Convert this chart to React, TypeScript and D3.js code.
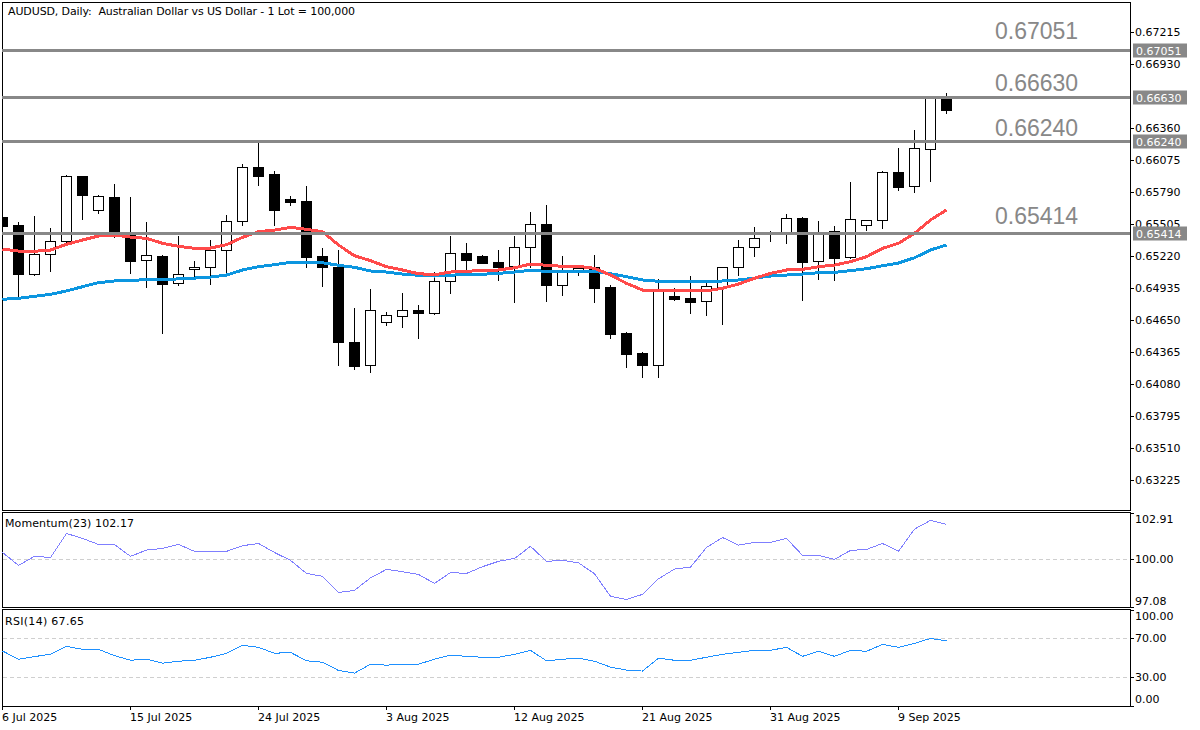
import React, { useEffect, useRef } from 'react'
import * as d3 from 'd3'

const opens = [65565,65494,65057,65235,65351,65931,65628,65744,65405,65182,65218,64977,65102,65120,65271,65530,66011,65949,65726,65708,65218,65120,64451,64246,64629,64683,64736,64709,64995,65244,65218,65164,65128,65298,65503,64959,65093,65120,64941,64531,64353,64246,64861,64843,64816,64941,65120,65298,65414,65414,65556,65173,65440,65209,65494,65539,65967,65842,66172,66617]
const highs = [65583,65530,65583,65476,65949,65940,65770,65869,65753,65530,65235,65405,65182,65369,65592,66047,66234,65984,65762,65851,65298,65280,64763,64932,64727,64897,64790,65084,65405,65342,65235,65280,65405,65619,65681,65226,65128,65235,64968,64549,64370,65021,64941,65048,65004,65128,65369,65485,65449,65601,65574,65539,65494,65886,65539,65984,66189,66350,66653,66680]
const lows = [65396,64852,65048,65084,65342,65548,65601,65387,65066,64941,64531,64959,65021,64968,65048,65494,65851,65494,65672,65120,64950,64246,64210,64183,64602,64584,64486,64700,64888,65102,65155,65004,64807,65120,64816,64870,65048,64807,64486,64228,64139,64139,64825,64709,64691,64611,65048,65218,65351,65334,64825,65012,65004,65200,65449,65467,65806,65788,65886,66493]
const closes = [65485,65057,65235,65351,65931,65762,65753,65414,65173,65226,64968,65057,65120,65271,65530,66011,65931,65628,65699,65209,65120,64451,64237,64736,64691,64736,64709,64995,65244,65182,65155,65120,65298,65503,64959,65093,65111,64932,64522,64344,64246,64914,64834,64807,64950,65120,65298,65378,65432,65556,65164,65432,65200,65548,65539,65967,65833,66181,66644,66519]

const maFast = [65280,65262,65260,65271,65322,65360,65396,65405,65387,65375,65331,65304,65286,65289,65318,65384,65434,65449,65473,65456,65434,65316,65220,65176,65122,65093,65060,65051,65075,65081,65090,65093,65113,65146,65135,65126,65126,65108,65048,64974,64914,64912,64914,64906,64906,64930,64968,65019,65063,65093,65099,65122,65137,65167,65211,65286,65331,65420,65539,65628]
const maSlow = [64832,64840,64858,64876,64906,64944,64980,64995,65001,65006,65010,65013,65021,65030,65048,65093,65122,65140,65161,65161,65158,65135,65117,65084,65075,65057,65046,65039,65046,65055,65055,65063,65075,65090,65081,65081,65081,65081,65060,65033,65004,64992,64992,64986,64986,64995,65004,65021,65039,65048,65057,65069,65072,65087,65104,65131,65155,65202,65271,65316]

const momentum = [100.43,99.63,100.19,100.12,101.61,101.30,100.93,100.93,100.19,100.58,100.68,100.93,100.50,100.50,100.50,100.85,100.99,100.43,99.94,99.13,98.95,97.95,98.08,98.86,99.38,99.24,99.07,98.51,99.19,99.13,99.55,99.88,100.06,100.81,99.88,99.94,99.79,99.11,97.71,97.52,97.83,98.80,99.40,99.52,100.74,101.36,100.89,101.05,101.05,101.30,100.25,100.25,100.00,100.56,100.62,100.99,100.50,101.88,102.42,102.17]
const rsi = [57.0,48.5,51.2,53.6,61.8,58.7,58.7,52.2,47.4,48.5,44.4,46.4,47.4,50.5,54.6,62.8,60.8,54.6,55.6,46.8,45.4,36.8,34.1,43.3,42.3,43.3,43.3,48.5,52.6,51.5,50.5,50.5,53.6,57.7,46.8,48.5,49.5,46.4,40.3,37.2,36.2,49.5,47.4,47.4,50.5,53.6,55.6,57.7,57.7,60.8,51.5,56.7,51.5,57.7,56.7,63.8,60.8,64.9,70.0,67.65]

const levels = [0.67051, 0.6663, 0.6624, 0.65414]
const levelLabelGaps = [11, 7, 5, 10]
const priceTicks = [0.67215,0.6693,0.6636,0.66075,0.6579,0.65505,0.6522,0.64935,0.6465,0.64365,0.6408,0.63795,0.6351,0.63225]
const momentumTicks = [102.91, 100, 97.08]
const rsiTicks = [100, 70, 30, 0]
const dateTicks = [0, 8, 16, 24, 32, 40, 48, 56]
const dateLabels = ['6 Jul 2025','15 Jul 2025','24 Jul 2025','3 Aug 2025','12 Aug 2025','21 Aug 2025','31 Aug 2025','9 Sep 2025']

const FONT = '"DejaVu Sans", sans-serif'
const left = 2
const right = 1130

function App() {
  const svgRef = useRef(null)

  useEffect(() => {
    const svg = d3.select(svgRef.current)
    svg.selectAll('*').remove()

    const x = d3.scaleLinear().domain([0, 59]).range([2, 946])
    const yPrice = d3.scaleLinear().domain([0.63225, 0.67215]).range([479.5, 32])
    const yMom = d3.scaleLinear().domain([97.08, 102.91]).range([606.5, 512.5])
    const yRsi = d3.scaleLinear().domain([0, 100]).range([706, 609.5])
    const px = (v) => Math.round(v) + 0.5
    const levelY = (v) => Math.floor(yPrice(v)) + 0.5

    svg.append('defs').append('clipPath').attr('id', 'main')
      .append('rect').attr('x', left).attr('y', 2).attr('width', right - left).attr('height', 508)

    // panels
    const panels = [[2, 510], [512, 607], [609, 706]]
    svg.selectAll('rect.panel').data(panels).join('rect')
      .attr('class', 'panel')
      .attr('x', left + 0.5).attr('y', (d) => d[0] + 0.5)
      .attr('width', right - left).attr('height', (d) => d[1] - d[0])
      .attr('fill', 'white').attr('stroke', 'black')

    const main = svg.append('g').attr('clip-path', 'url(#main)').attr('shape-rendering', 'crispEdges')

    // candles
    const candles = main.selectAll('g.candle').data(d3.range(opens.length)).join('g').attr('class', 'candle')
    candles.append('line')
      .attr('x1', (i) => x(i) + 0.5).attr('x2', (i) => x(i) + 0.5)
      .attr('y1', (i) => px(yPrice(highs[i] / 100000)))
      .attr('y2', (i) => px(yPrice(lows[i] / 100000)))
      .attr('stroke', 'black')
    candles.append('rect')
      .attr('x', (i) => x(i) - 4.5).attr('width', 10)
      .attr('y', (i) => px(yPrice(Math.max(opens[i], closes[i]) / 100000)))
      .attr('height', (i) => Math.max(1, Math.round(yPrice(Math.min(opens[i], closes[i]) / 100000)) - Math.round(yPrice(Math.max(opens[i], closes[i]) / 100000))))
      .attr('fill', (i) => (closes[i] < opens[i] ? 'black' : 'white'))
      .attr('stroke', 'black')

    // moving averages
    const priceLine = d3.line().x((d, i) => x(i) + 0.5).y((d) => yPrice(d / 100000))
    main.append('path').attr('d', priceLine(maSlow)).attr('fill', 'none').attr('stroke', '#0c96e0').attr('stroke-width', 3)
    main.append('path').attr('d', priceLine(maFast)).attr('fill', 'none').attr('stroke', '#ff4a4a').attr('stroke-width', 3)

    // levels
    main.selectAll('line.level').data(levels).join('line')
      .attr('class', 'level')
      .attr('x1', left).attr('x2', right)
      .attr('y1', (d) => levelY(d)).attr('y2', (d) => levelY(d))
      .attr('stroke', '#888888').attr('stroke-width', 3)

    svg.selectAll('text.levelLabel').data(levels).join('text')
      .attr('class', 'levelLabel')
      .attr('x', 995).attr('y', (d, i) => yPrice(d) - levelLabelGaps[i])
      .attr('fill', '#888888')
      .style('font-family', '"Liberation Sans", Arial, sans-serif').style('font-size', '23px')
      .text((d) => d.toFixed(5))

    // indicator guides
    const guides = [[yMom, [100]], [yRsi, [70, 30]]]
    guides.forEach(([scale, vals]) => {
      svg.selectAll(null).data(vals).join('line')
        .attr('x1', left + 1).attr('x2', right)
        .attr('y1', (d) => px(scale(d))).attr('y2', (d) => px(scale(d)))
        .attr('stroke', '#cfcfcf').attr('stroke-dasharray', '4 3')
        .attr('shape-rendering', 'crispEdges')
    })

    // indicator lines
    const momLine = d3.line().x((d, i) => x(i) + 0.5).y((d) => yMom(d))
    const rsiLine = d3.line().x((d, i) => x(i) + 0.5).y((d) => yRsi(d))
    svg.append('path').attr('d', momLine(momentum)).attr('fill', 'none').attr('stroke', '#7f7fff').attr('shape-rendering', 'crispEdges')
    svg.append('path').attr('d', rsiLine(rsi)).attr('fill', 'none').attr('stroke', '#1e90ff').attr('shape-rendering', 'crispEdges')

    // axes
    const styleAxis = (g) => {
      g.select('.domain').remove()
      g.selectAll('line').attr('stroke', 'black').attr('shape-rendering', 'crispEdges')
      g.selectAll('text').attr('fill', 'black').style('font-family', FONT).style('font-size', '11px')
    }
    const priceAxis = d3.axisRight(yPrice).tickValues(priceTicks).tickSize(4).tickPadding(1).tickFormat(d3.format('.5f'))
    svg.append('g').attr('transform', `translate(${right},0)`).call(priceAxis).call(styleAxis)

    const momAxis = d3.axisRight(yMom).tickValues(momentumTicks).tickSize(4).tickPadding(1).tickFormat(d3.format('.2f'))
    const momG = svg.append('g').attr('transform', `translate(${right},0)`).call(momAxis).call(styleAxis)
    momG.selectAll('text').filter((d) => d === 102.91).attr('dy', '0.9em')
    momG.selectAll('text').filter((d) => d === 97.08).attr('dy', '-0.2em')

    const rsiAxis = d3.axisRight(yRsi).tickValues(rsiTicks).tickSize(4).tickPadding(1).tickFormat(d3.format('.2f'))
    const rsiG = svg.append('g').attr('transform', `translate(${right},0)`).call(rsiAxis).call(styleAxis)
    rsiG.selectAll('text').filter((d) => d === 100).attr('dy', '0.95em')
    rsiG.selectAll('text').filter((d) => d === 0).attr('dy', '-0.3em')

    const timeAxis = d3.axisBottom(x).tickValues(dateTicks).tickSize(4).tickPadding(3).tickFormat((d, i) => dateLabels[i])
    svg.append('g').attr('transform', 'translate(0,706)').call(timeAxis).call(styleAxis)
      .selectAll('text').attr('text-anchor', 'start').attr('dx', '-0.5')

    // price tags on the scale
    const tags = svg.selectAll('g.tag').data(levels).join('g').attr('class', 'tag')
    tags.append('rect')
      .attr('x', 1133).attr('width', 54).attr('height', 14)
      .attr('y', (d) => Math.floor(yPrice(d)) - 6.5).attr('fill', '#888888')
    tags.append('text')
      .attr('x', 1136).attr('y', (d) => Math.floor(yPrice(d)) + 4.5).attr('fill', 'white')
      .style('font-family', FONT).style('font-size', '11px')
      .text((d) => d.toFixed(5))

    // captions
    const caps = [
      ['AUDUSD, Daily:  Australian Dollar vs US Dollar - 1 Lot = 100,000', 8, 15, 347],
      ['Momentum(23) 102.17', 5, 527, 129],
      ['RSI(14) 67.65', 5, 625, 79],
    ]
    svg.selectAll('text.cap').data(caps).join('text')
      .attr('class', 'cap')
      .attr('x', (d) => d[1]).attr('y', (d) => d[2])
      .attr('textLength', (d) => d[3])
      .attr('xml:space', 'preserve').style('white-space', 'pre')
      .style('font-family', FONT).style('font-size', '11px')
      .attr('fill', 'black')
      .text((d) => d[0])
  }, [])

  return (
    <svg ref={svgRef} width={1200} height={730} style={{ position: 'absolute', left: 0, top: 0, background: 'white' }} />
  )
}

export default App
